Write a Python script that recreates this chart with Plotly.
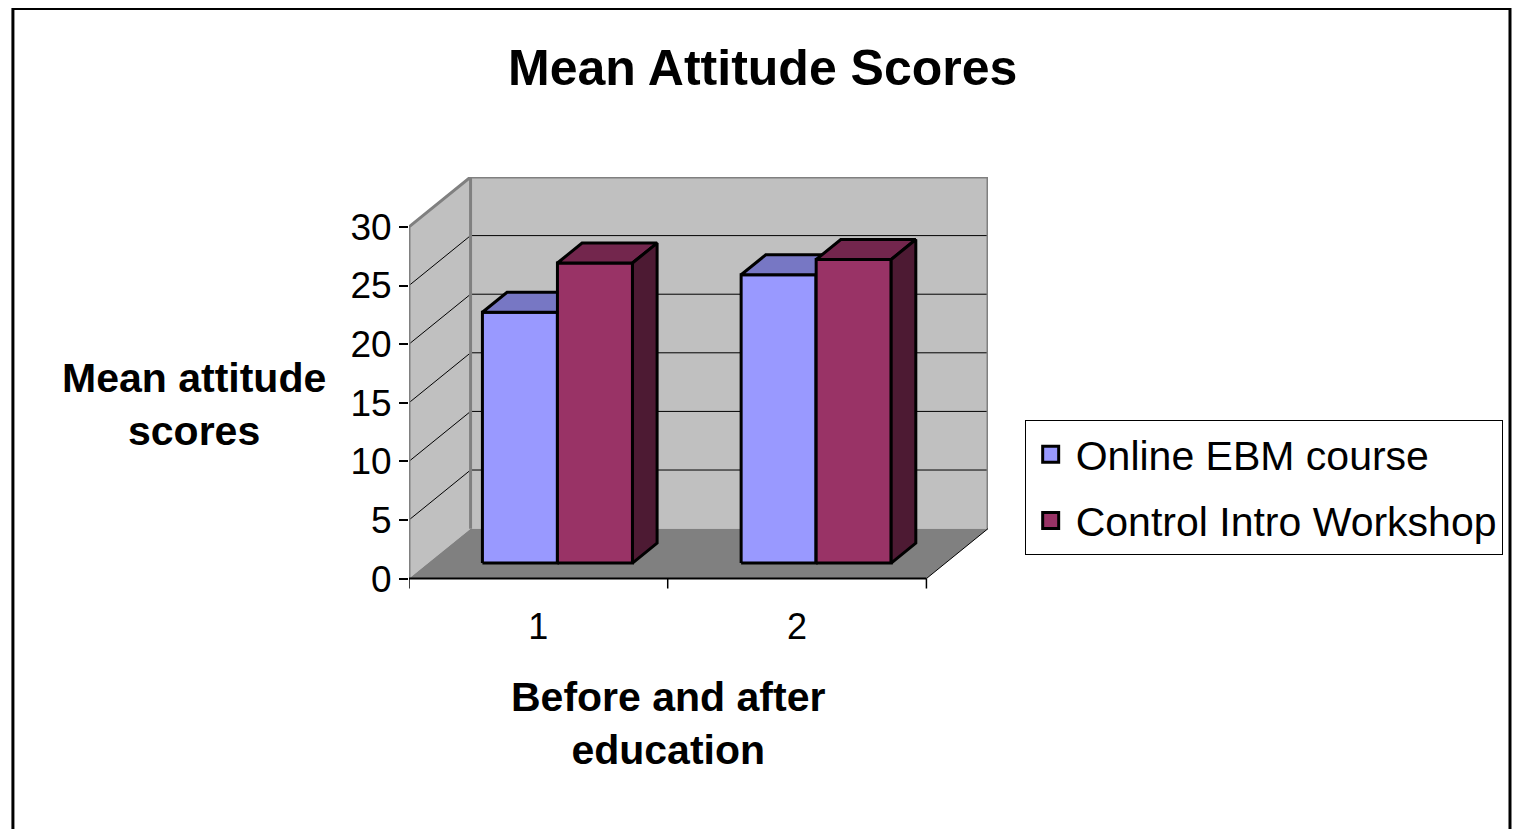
import plotly.graph_objects as go

# ---------------- data ----------------
categories = ["1", "2"]
cat_pos = [1, 2]
series_names = ["Online EBM course", "Control Intro Workshop"]
online_values = [21.4, 24.6]
control_values = [25.6, 25.9]
y_ticks = [0, 5, 10, 15, 20, 25, 30]

# ---------------- styling / geometry ----------------
FONT = "Liberation Sans, Arial, sans-serif"
OFF = 8                                   # default page body margin
W, H = 1523 - 2 * OFF, 837 - 2 * OFF
L = 409 - OFF
T = 177 - OFF
R = W - (993 - OFF)
B = H - (602 - OFF)
YMAX = 30
DX, DY = 0.238, 4.26                      # oblique depth offset (data units)
YMIN = -2
X0, X1 = 0.5, 2.5
BAR_W = 0.29
F1, F2 = 0.31, 0.71                        # bar depth fraction (front, back)

front_cols = ["#9999FF", "#993366"]
top_cols = ["#7777C4", "#73264D"]
side_cols = ["#5B5B99", "#4D1A33"]

fig = go.Figure()


def poly(xs, ys, fill, lc="rgba(0,0,0,0)", lw=0):
    fig.add_trace(go.Scatter(
        x=list(xs) + [xs[0]], y=list(ys) + [ys[0]], mode="lines", fill="toself",
        fillcolor=fill, line=dict(color=lc, width=lw), showlegend=False,
        hoverinfo="skip"))


def seg(xs, ys, color, width):
    fig.add_trace(go.Scatter(x=xs, y=ys, mode="lines",
                             line=dict(color=color, width=width),
                             showlegend=False, hoverinfo="skip"))


# walls and floor
poly([X0, X0 + DX, X0 + DX, X0], [0, DY, YMAX + DY, YMAX], "#C0C0C0")
poly([X0 + DX, X1 + DX, X1 + DX, X0 + DX], [DY, DY, YMAX + DY, YMAX + DY], "#C0C0C0")
poly([X0, X1, X1 + DX, X0 + DX], [0, 0, DY, DY], "#808080")

# gridlines
gx, gy, sx, sy = [], [], [], []
for v in y_ticks[1:-1]:
    gx += [X0 + DX, X1 + DX, None]
    gy += [v + DY, v + DY, None]
    sx += [X0, X0 + DX, None]
    sy += [v, v + DY, None]
seg(gx, gy, "#000000", 1)
seg(sx, sy, "#000000", 1)

# wall edges
seg([X0, X0, X0 + DX, X1 + DX, X1 + DX],
    [0, YMAX, YMAX + DY, YMAX + DY, DY], "#808080", 3)
seg([X0 + DX, X0 + DX], [DY, YMAX + DY], "#808080", 3)
seg([X1, X1 + DX], [0, DY], "#000000", 1)

# x axis line and ticks
seg([X0, X1], [0, 0], "#000000", 2)
tx, ty = [], []
for t in [X0] + [c + 0.5 for c in cat_pos]:
    tx += [t, t, None]
    ty += [0, -0.85, None]
seg(tx, ty, "#000000", 1.5)

# bars
for gi, c in enumerate(cat_pos):
    for si, vals in enumerate([online_values, control_values]):
        v = vals[gi]
        x0 = c - BAR_W + si * BAR_W
        x1 = x0 + BAR_W
        fx0, fx1, fy = x0 + F1 * DX, x1 + F1 * DX, F1 * DY
        bx0, bx1, by = x0 + F2 * DX, x1 + F2 * DX, F2 * DY
        poly([fx0, fx1, fx1, fx0], [fy, fy, fy + v, fy + v], front_cols[si], "#000000", 3)
        poly([fx0, fx1, bx1, bx0], [fy + v, fy + v, by + v, by + v], top_cols[si], "#000000", 3)
        poly([fx1, bx1, bx1, fx1], [fy, by, by + v, fy + v], side_cols[si], "#000000", 3)

# legend entries
for si, name in enumerate(series_names):
    fig.add_trace(go.Scatter(
        x=[None], y=[None], mode="markers", name=name, legendgroup=name,
        marker=dict(symbol="square", size=16, color=front_cols[si],
                    line=dict(color="#000000", width=3))))

pw = W - L - R
ph = H - T - B


def px(x):
    return (x - OFF - L) / pw


def py(y):
    return (H - B - (y - OFF)) / ph


fig.update_layout(
    width=W, height=H, autosize=False,
    margin=dict(l=L, r=R, t=T, b=B, pad=0),
    paper_bgcolor="white", plot_bgcolor="rgba(0,0,0,0)",
    font=dict(family=FONT, color="#000000"),
    xaxis=dict(range=[X0, X1 + DX], showgrid=False, zeroline=False, showline=False,
               tickvals=cat_pos, ticktext=categories, ticks="",
               tickfont=dict(size=36, family=FONT), fixedrange=True),
    yaxis=dict(range=[YMIN, YMAX + DY], showgrid=False, zeroline=False, showline=False,
               tickvals=y_ticks, ticks="outside", ticklen=9, tickwidth=1.5,
               tickcolor="#000000", tickfont=dict(size=37, family=FONT), fixedrange=True),
    legend=dict(x=px(1030), y=py(420), xanchor="left", yanchor="top",
                bordercolor="#000000", borderwidth=1, bgcolor="white",
                font=dict(size=41, family=FONT), tracegroupgap=10,
                traceorder="grouped", itemwidth=40, itemsizing="trace"),
    showlegend=True,
    annotations=[
        dict(text="<b>Mean Attitude Scores</b>", xref="paper", yref="paper",
             x=px(766), y=py(68), showarrow=False, font=dict(size=50, family=FONT),
             xanchor="center", yanchor="middle"),
        dict(text="<b>Mean attitude<br>scores</b>", xref="paper", yref="paper",
             x=px(192), y=py(404), showarrow=False, font=dict(size=41, family=FONT),
             xanchor="center", yanchor="middle"),
        dict(text="<b>Before and after<br>education</b>", xref="paper", yref="paper",
             x=px(670), y=py(723), showarrow=False, font=dict(size=41, family=FONT),
             xanchor="center", yanchor="middle"),
    ],
    shapes=[
        dict(type="rect", xref="paper", yref="paper",
             x0=px(9.5), x1=px(1519.5), y0=py(850), y1=py(8.5),
             line=dict(color="#000000", width=3), fillcolor="rgba(0,0,0,0)"),
    ],
)

fig.write_html("out.html")
